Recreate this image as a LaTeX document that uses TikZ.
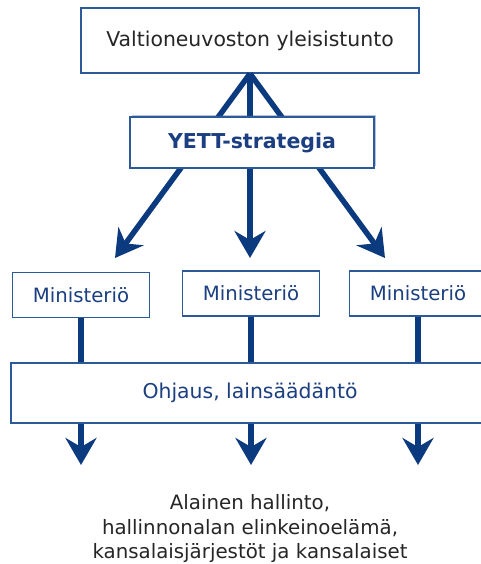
\documentclass[tikz,border=0pt]{standalone}
\usepackage{fontspec}
\setmainfont{DejaVu Sans}
\usetikzlibrary{arrows.meta,shadows}

\definecolor{yettnavy}{HTML}{0B3A7E}
\definecolor{yettblue}{HTML}{1B3F80}
\definecolor{yettframe}{HTML}{2C5A98}
\definecolor{yettgray}{HTML}{262626}

\newcommand{\minw}{137pt}
\newcommand{\minh}{45pt}
\newcommand{\tipstyle}{Stealth[length=27pt, width=31pt, inset=9pt]}

\tikzset{
    box/.style={rectangle, draw=yettframe, line width=1.3pt, fill=white, inner sep=0pt, align=center},
    shadowbox/.style={box, drop shadow={shadow xshift=1.5pt, shadow yshift=1.5pt, opacity=.35, fill=yettframe}},
    ministry/.style={box, minimum width=\minw, minimum height=\minh, text=yettblue, font=\fontsize{19.7}{23}\selectfont},
    link/.style={draw=yettnavy, line width=5.5pt},
    bar/.style={draw=yettnavy, line width=6pt},
    arrowlink/.style={link, -{\tipstyle}},
    bararrow/.style={bar, -{\tipstyle}}
}

\begin{document}
\begin{tikzpicture}[x=1pt, y=-1pt]
    \useasboundingbox (0,0) rectangle (481,564);
    \clip (0,0) rectangle (481,564);

    % top level
    \node[box, minimum width=338pt, minimum height=65pt, text=yettgray, font=\fontsize{20.4}{24}\selectfont] (council) at (250,40.5) {Valtioneuvoston yleisistunto};

    % arrows through the strategy box
    \coordinate (t1) at (115,258);
    \coordinate (t2) at (250,258);
    \coordinate (t3) at (385,258);
    \foreach \t in {t1,t2,t3} {
        \draw[arrowlink] (council.south) -- (\t);
    }

    \node[shadowbox, minimum width=244pt, minimum height=51pt, text=yettblue, font=\bfseries\fontsize{20.5}{24}\selectfont] (strategy) at (252,142.5) {YETT-strategia};

    % ministries
    \node[ministry] (m1) at (81,295) {Ministeriö};
    \node[ministry] (m2) at (251,293.5) {Ministeriö};
    \node[ministry] (m3) at (418,293.5) {Ministeriö};

    \node[shadowbox, minimum width=478pt, minimum height=60pt, text=yettblue, font=\fontsize{20.4}{24}\selectfont] (steering) at (250,393) {Ohjaus, lainsäädäntö};

    \foreach \m in {m1,m2,m3} {
        \draw[bar] (\m.south) -- (\m.south |- steering.north);
    }

    % down to the administration
    \coordinate (b1) at (81,465);
    \coordinate (b2) at (251,465);
    \coordinate (b3) at (418,465);
    \foreach \b in {b1,b2,b3} {
        \draw[bararrow] (\b |- steering.south) -- (\b);
    }

    \node[align=center, text=yettgray, font=\fontsize{19.8}{24.5}\selectfont] (public) at (250,529) {Alainen hallinto,\\hallinnonalan elinkeinoelämä,\\kansalaisjärjestöt ja kansalaiset};
\end{tikzpicture}
\end{document}
